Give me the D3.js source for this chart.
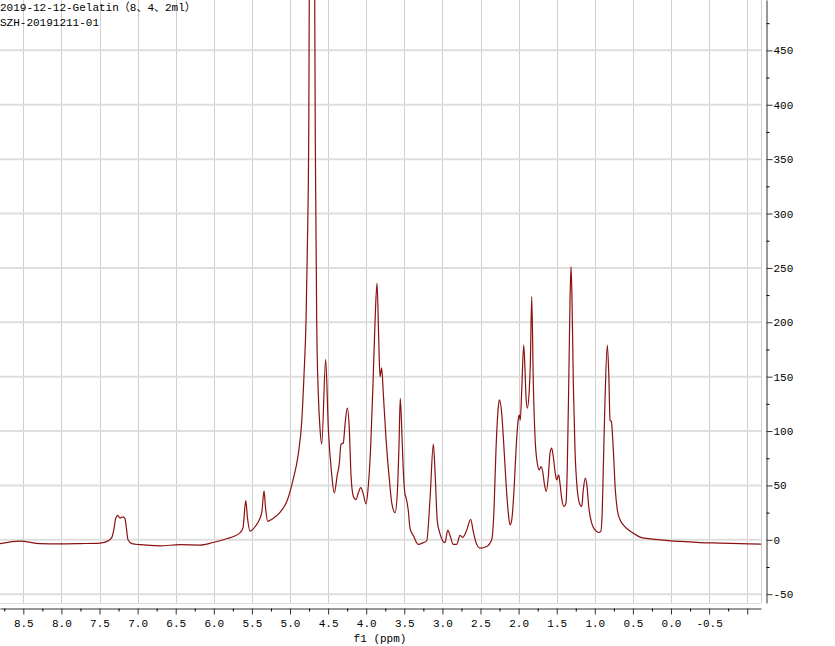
<!DOCTYPE html>
<html><head><meta charset="utf-8">
<script src="https://cdn.jsdelivr.net/npm/d3@7"></script>
<style>body{margin:0;background:#fff}svg{display:block}</style>
</head><body><svg id="c" width="835" height="646"></svg>
<script>
const titleLines = ["2019-12-12-Gelatin（8、4、2ml）", "SZH-20191211-01"];
const xAxisTitle = "f1 (ppm)";
const ppm = [8.806,8.543,8.281,8.018,7.756,7.493,7.388,7.340,7.310,7.290,7.261,7.231,7.192,7.166,7.146,7.126,7.074,6.969,6.706,6.444,6.181,6.010,5.853,5.656,5.617,5.581,5.558,5.525,5.459,5.371,5.341,5.322,5.293,5.236,5.131,5.043,4.957,4.891,4.846,4.816,4.790,4.773,4.755,4.718,4.668,4.650,4.629,4.606,4.584,4.532,4.497,4.453,4.419,4.379,4.353,4.331,4.301,4.278,4.248,4.222,4.200,4.169,4.134,4.104,4.072,4.038,4.003,3.972,3.941,3.907,3.881,3.858,3.836,3.819,3.797,3.776,3.740,3.697,3.665,3.622,3.592,3.570,3.553,3.534,3.513,3.491,3.478,3.448,3.425,3.382,3.316,3.251,3.206,3.163,3.119,3.097,3.067,3.031,2.966,2.930,2.900,2.857,2.812,2.769,2.734,2.681,2.629,2.594,2.550,2.507,2.419,2.353,2.323,2.297,2.266,2.253,2.222,2.201,2.165,2.135,2.113,2.090,2.060,2.034,2.008,1.991,1.978,1.959,1.933,1.916,1.903,1.886,1.860,1.846,1.828,1.807,1.785,1.755,1.728,1.706,1.684,1.663,1.637,1.610,1.588,1.566,1.545,1.522,1.500,1.474,1.457,1.435,1.404,1.378,1.361,1.342,1.325,1.312,1.299,1.282,1.260,1.230,1.194,1.172,1.151,1.125,1.102,1.080,1.041,0.997,0.954,0.922,0.905,0.888,0.866,0.836,0.817,0.800,0.783,0.757,0.731,0.705,0.669,0.626,0.560,0.495,0.407,0.145,-0.118,-0.380,-0.643,-0.905,-1.181];
const intensity = [-3.5,-1.2,-3.5,-3.8,-3.5,-3.0,-1.0,2.0,10,19,22.5,20,21,19.5,10,0,-3.5,-4.5,-5.5,-4.5,-4.8,-2.5,0.5,6.4,11,36,20,8,12,25,45,30,17,19,25.3,35,56,79,109,152,201,266,365,1100,365,201,135,102,88,166,102,60,43,60,70,88,89,106,121,102,60,40,37,43,48,42,33,50,86,152,207,236,185,150,158,135,93,56,34,25,43,86,130,102,63,42,39,27,10.5,4,-4.2,-2.6,-1,37,88,63,17,5.5,-2.6,8.9,4,-4.2,-4.2,4,2.3,8.9,18.7,7.3,-4.2,-7.6,-6.1,0,27.6,82.7,122.5,128.7,116.4,95,52,24.5,13.8,18.4,46,82.7,108.7,114.9,110,137.9,179,156,131.7,121,137.9,162.4,223.6,144,95,70.5,64.3,67.4,62.8,52,44.4,58.2,79.7,84.3,76.6,62.8,55.1,59.7,52,38.3,30.6,33.7,67.4,144,220.6,251.2,220.6,144,82.7,46,32.2,30.6,46,56.7,49,30.6,15.3,9.2,6.8,7.7,21.4,67.4,128.7,179,153,110,108.7,82.7,46,27.6,18.4,13.8,9.2,6.1,2.5,0,-1.5,-2.5,-3,-3.5,-4];
const xMajorTicks = [8.5,8.0,7.5,7.0,6.5,6.0,5.5,5.0,4.5,4.0,3.5,3.0,2.5,2.0,1.5,1.0,0.5,0.0,-0.5,-1.0];
const xTickLabels = ["8.5","8.0","7.5","7.0","6.5","6.0","5.5","5.0","4.5","4.0","3.5","3.0","2.5","2.0","1.5","1.0","0.5","0.0","-0.5",""];
const xMinorTicks = [8.75,8.25,7.75,7.25,6.75,6.25,5.75,5.25,4.75,4.25,3.75,3.25,2.75,2.25,1.75,1.25,0.75,0.25,-0.25,-0.75];
const yMajorTicks = [-50,0,50,100,150,200,250,300,350,400,450];
const yTickLabels = ["-50","0","50","100","150","200","250","300","350","400","450"];
const yMinorTicks = [-25,25,75,125,175,225,275,325,375,425,475];

const svg = d3.select("#c");
const plotW = 761, plotH = 603;
const x = d3.scaleLinear().domain([8.806, -1.181]).range([0, plotW]);
const y = d3.scaleLinear().domain([-58.1, 496.3]).range([plotH, 0]);
const font = "'Liberation Mono','Noto Sans CJK SC',monospace";

// grid
const grid = svg.append("g");
grid.selectAll("line.v").data(xMajorTicks).enter().append("line")
  .attr("x1", d => Math.round(x(d)) + 0.5).attr("x2", d => Math.round(x(d)) + 0.5)
  .attr("y1", 0).attr("y2", plotH).attr("stroke", "#cfcfcf").attr("stroke-width", 1);
grid.selectAll("line.h").data(yMajorTicks).enter().append("line")
  .attr("x1", 0).attr("x2", plotW)
  .attr("y1", d => y(d)).attr("y2", d => y(d)).attr("stroke", "#dedede").attr("stroke-width", 2);
grid.append("line").attr("x1", plotW + 0.5).attr("x2", plotW + 0.5).attr("y1", 0).attr("y2", plotH)
  .attr("stroke", "#cfcfcf");
grid.append("line").attr("x1", 0).attr("x2", plotW).attr("y1", plotH + 0.5).attr("y2", plotH + 0.5)
  .attr("stroke", "#dedede");

// spectrum
svg.append("clipPath").attr("id", "clip").append("rect")
  .attr("x", 0).attr("y", 0).attr("width", plotW).attr("height", plotH);
const pts = ppm.map((p, i) => [p, intensity[i]]);
const line = d3.line().x(d => x(d[0])).y(d => y(d[1])).curve(d3.curveMonotoneX);
svg.append("path").datum(pts).attr("clip-path", "url(#clip)")
  .attr("d", line).attr("fill", "none").attr("stroke", "#8b1010").attr("stroke-width", 1.2)
  .attr("stroke-linejoin", "round");

// x axis
const xAxisG = svg.append("g").attr("transform", "translate(0,608.5)")
  .call(d3.axisBottom(x).tickValues(xMajorTicks).tickSize(6).tickPadding(5).tickSizeOuter(0)
    .tickFormat((d, i) => xTickLabels[i]));
svg.append("g").attr("transform", "translate(0,608.5)")
  .call(d3.axisBottom(x).tickValues(xMinorTicks).tickSize(3).tickFormat("").tickSizeOuter(0))
  .select(".domain").remove();
xAxisG.selectAll("text").attr("font-family", font).attr("font-size", 11).attr("fill", "#000");
xAxisG.selectAll("line,path").attr("stroke", "#333");
svg.append("text").attr("x", 380).attr("y", 642).attr("text-anchor", "middle")
  .attr("font-family", font).attr("font-size", 11).text(xAxisTitle);

// y axis
const yAxisG = svg.append("g").attr("transform", "translate(766.5,0)")
  .call(d3.axisRight(y).tickValues(yMajorTicks).tickSize(6).tickPadding(1).tickSizeOuter(0)
    .tickFormat((d, i) => yTickLabels[i]));
svg.append("g").attr("transform", "translate(766.5,0)")
  .call(d3.axisRight(y).tickValues(yMinorTicks).tickSize(3).tickFormat("").tickSizeOuter(0))
  .select(".domain").remove();
yAxisG.selectAll("text").attr("font-family", font).attr("font-size", 11).attr("fill", "#000");
yAxisG.selectAll("line,path").attr("stroke", "#333");

// title
svg.selectAll("text.title").data(titleLines).enter().append("text")
  .attr("x", 0).attr("y", (d, i) => 11 + i * 15)
  .attr("font-family", font).attr("font-size", 11).attr("fill", "#000").text(d => d);
</script></body></html>
